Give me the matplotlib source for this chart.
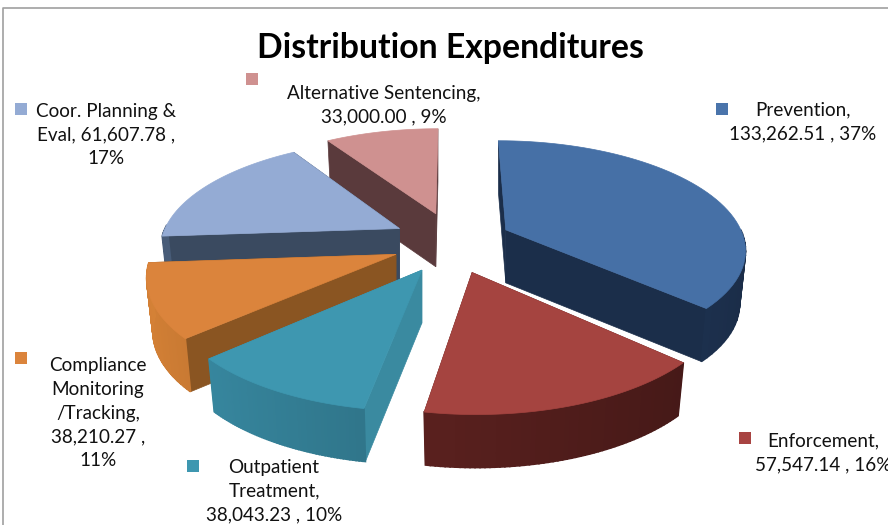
import numpy as np
import matplotlib
matplotlib.use('Agg')
import matplotlib.pyplot as plt
from matplotlib.colors import to_rgb
from matplotlib.patches import Polygon, Rectangle

categories = ['Prevention', 'Enforcement', 'Outpatient Treatment',
              'Compliance Monitoring /Tracking', 'Coor. Planning & Eval',
              'Alternative Sentencing']
values = [133262.51, 57547.14, 38043.23, 38210.27, 61607.78, 33000.00]
labels = ['Prevention,\n133,262.51 , 37%',
          'Enforcement,\n57,547.14 , 16%',
          'Outpatient\nTreatment,\n38,043.23 , 10%',
          'Compliance\nMonitoring\n/Tracking,\n38,210.27 ,\n11%',
          'Coor. Planning &\nEval, 61,607.78 ,\n17%',
          'Alternative Sentencing,\n33,000.00 , 9%']
top_colors = ['#4670A6', '#A54440', '#3E97B0', '#DB843C', '#94ABD4', '#CF9190']
wall_colors = ['#233B5F', '#561F1D', '#2E7185', '#AA672B', '#3A4A60', '#5A3A3C']
cut_colors = ['#1B2E4A', '#5C2422', '#3A8AA0', '#8A5522', '#3A4A60', '#5A3A3C']
legend_colors = ['#4A74AB', '#A84442', '#3E97B0', '#DB843C', '#94ABD4', '#CF9190']
legend_boxes = [(716, 103), (739, 432), (187, 460), (15, 352), (15, 103), (246, 73)]
label_pos = [(803, 122), (823, 453), (274, 491), (98, 413), (106, 135), (384, 105)]

CX, CY = 452, 242
RX, RY = 292, 131
DEPTH = 53
PERSP = 5.0
EXPLODE_X = 0.205
EXPLODE_Y = 0.235
TAPER = 0.975


def project(x, y):
    f = PERSP / (PERSP + y)
    return CX + RX * x * f, CY - RY * y * f


fig = plt.figure(figsize=(8.88, 5.25), dpi=100)
ax = fig.add_axes([0, 0, 1, 1])
ax.set_xlim(0, 888)
ax.set_ylim(525, 0)
ax.axis('off')

ax.plot([3, 3, 888], [525, 8, 8], color='#A0A0A0', lw=1.2)

fracs = np.array(values) / sum(values)
edges = np.concatenate([[0], np.cumsum(fracs)]) * 2 * np.pi


def draw_slice(i):
    a0, a1 = edges[i], edges[i + 1]
    mid = (a0 + a1) / 2
    ox, oy = EXPLODE_X * np.sin(mid), EXPLODE_Y * np.cos(mid)
    t = np.linspace(a0, a1, 60)
    px, py = project(ox + 0.82 * np.sin(t), oy + 0.82 * np.cos(t))
    qx, qy = project(ox, oy)
    bx = qx + (px - qx) * TAPER
    by = py + DEPTH
    # cut faces
    for j in (0, -1):
        ax.add_patch(Polygon([(qx, qy), (px[j], py[j]), (bx[j], by[j]), (qx, qy + DEPTH)],
                             fc=cut_colors[i], ec=cut_colors[i], lw=0.5))
    # outer wall, only the part facing the viewer, lighter towards the left
    base = np.array(to_rgb(wall_colors[i]))
    for k in range(len(t) - 1):
        if np.cos(t[k]) > 0.02:
            continue
        col = np.clip(base * (1 - 0.25 * np.sin(t[k])), 0, 1)
        ax.add_patch(Polygon([(px[k], py[k]), (px[k + 1], py[k + 1]),
                              (bx[k + 1], by[k + 1]), (bx[k], by[k])],
                             fc=col, ec=col, lw=1.2))
    # top
    ax.add_patch(Polygon([(qx, qy)] + list(zip(px, py)),
                         fc=top_colors[i], ec=top_colors[i], lw=0.5))


for i in [5, 4, 3, 0, 1, 2]:
    draw_slice(i)

for i, lab in enumerate(labels):
    ax.text(label_pos[i][0], label_pos[i][1], lab, ha='center', va='center',
            fontsize=13.6, family='Lato', color='#111111', linespacing=1.5)
    x0, y0 = legend_boxes[i]
    ax.add_patch(Rectangle((x0, y0), 12, 12, fc=legend_colors[i], ec='none'))

ax.text(450, 48, 'Distribution Expenditures', ha='center', va='center',
        fontsize=24.3, family='Lato', fontweight='bold', color='black')

fig.savefig('out.png', dpi=100)
